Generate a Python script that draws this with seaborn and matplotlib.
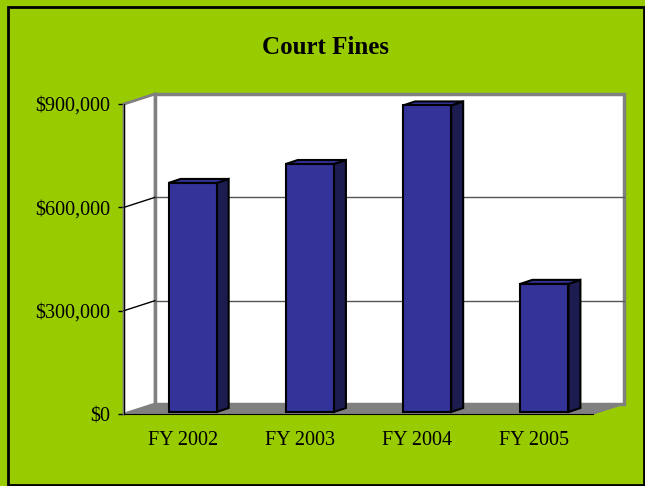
import matplotlib
matplotlib.use("Agg")
import matplotlib.pyplot as plt
import matplotlib.transforms as mtransforms
from matplotlib.patches import Polygon, Rectangle
import seaborn as sns

years = ["FY 2002", "FY 2003", "FY 2004", "FY 2005"]
fines = [665000, 720000, 890000, 372000]
y_ticks = [0, 300000, 600000, 900000]
y_labels = ["$0", "$300,000", "$600,000", "$900,000"]

GREEN = "#99CC00"
NAVY = "#333399"
NAVY_SIDE = "#1C1C50"
GREY = "#808080"

sns.set_style("white")
plt.rcParams["font.family"] = ["Liberation Serif", "DejaVu Serif"]
plt.rcParams["text.color"] = "black"
plt.rcParams["xtick.color"] = "black"
plt.rcParams["ytick.color"] = "black"
plt.rcParams["xtick.labelcolor"] = "black"
plt.rcParams["ytick.labelcolor"] = "black"

W, H = 645, 486
fig = plt.figure(figsize=(W / 100, H / 100), dpi=100, facecolor=GREEN)
fig.patches.append(Rectangle((7.5 / W, 1 - 484.5 / H), 636 / W, 477 / H,
                             transform=fig.transFigure, fill=False,
                             edgecolor="black", lw=2))
fig.text(326 / W, 1 - 47 / H, "Court Fines", ha="center", va="center",
         fontsize=18, fontweight="bold", color="black")

ax = fig.add_axes([124 / W, 1 - 414 / H, 469 / W, 310 / H])
ax.set_facecolor("none")

sns.barplot(x=years, y=fines, color=NAVY, saturation=1, width=0.41,
            edgecolor="black", linewidth=1.5, ax=ax, zorder=5)
bars = list(ax.patches)

ax.set_xlim(-0.5, 3.5)
ax.set_ylim(0, 900000)
ax.set_yticks(y_ticks, y_labels)
ax.set_xlabel("")
ax.set_ylabel("")
ax.tick_params(axis="y", length=4, width=1, colors="black", pad=6,
               labelsize=14.5, left=True, direction="out")
ax.tick_params(axis="x", length=0, pad=12, labelsize=14.5, colors="black")
for s in ["top", "right"]:
    ax.spines[s].set_visible(False)
ax.spines["left"].set_color("black")
ax.spines["bottom"].set_color("black")
ax.spines["left"].set_zorder(6)
ax.spines["bottom"].set_zorder(6)

# depth of the 3d box (pixels)
DX, DY = 31, 10
ident = mtransforms.IdentityTransform()
back_axes = mtransforms.offset_copy(ax.transAxes, fig, x=DX, y=DY, units="dots")
back_data = mtransforms.offset_copy(ax.transData, fig, x=DX, y=DY, units="dots")


def px(tr, x, y):
    return tr.transform((x, y))


# back wall
ax.add_patch(Rectangle((0, 0), 1, 1, transform=back_axes, facecolor="white",
                       edgecolor=GREY, lw=2.5, zorder=0, clip_on=False))
# left wall
fl, ft = px(ax.transAxes, 0, 0), px(ax.transAxes, 0, 1)
bl, bt = px(back_axes, 0, 0), px(back_axes, 0, 1)
ax.add_patch(Polygon([fl, ft, bt, bl], closed=True, transform=ident,
                     facecolor="white", edgecolor=GREY, lw=2, zorder=1,
                     clip_on=False))
# floor
fr, br = px(ax.transAxes, 1, 0), px(back_axes, 1, 0)
ax.add_patch(Polygon([fl, fr, br, bl], closed=True, transform=ident,
                     facecolor=GREY, edgecolor=GREY, lw=1, zorder=2,
                     clip_on=False))

# gridlines: back wall and left wall
for v in y_ticks[1:-1]:
    ax.plot([-0.5, 3.5], [v, v], transform=back_data, color="#555555",
            lw=1, zorder=1.5, clip_on=False)
for v in y_ticks[1:]:
    p0, p1 = px(ax.transData, -0.5, v), px(back_data, -0.5, v)
    ax.plot([p0[0], p1[0]], [p0[1], p1[1]], transform=ident,
            color="black" if v < 900000 else GREY, lw=1, zorder=1.5,
            clip_on=False)

# bars sit a bit inside the box, with their own depth
BX, BY = 10, 2
SX, SY = 12, 4
bar_tr = mtransforms.offset_copy(ax.transData, fig, x=BX, y=BY, units="dots")
for bar in bars:
    bar.set_transform(bar_tr)
    bar.set_clip_on(False)
    x0, w, h = bar.get_x(), bar.get_width(), bar.get_height()
    (a, b0), (c, b1) = px(bar_tr, x0, 0), px(bar_tr, x0 + w, h)
    side = [(c, b0), (c + SX, b0 + SY), (c + SX, b1 + SY), (c, b1)]
    top = [(a, b1), (c, b1), (c + SX, b1 + SY), (a + SX, b1 + SY)]
    ax.add_patch(Polygon(side, closed=True, transform=ident,
                         facecolor=NAVY_SIDE, edgecolor="black", lw=1.5,
                         zorder=4, clip_on=False))
    ax.add_patch(Polygon(top, closed=True, transform=ident,
                         facecolor=NAVY, edgecolor="black", lw=1.5,
                         zorder=4, clip_on=False))

fig.savefig("out.png", dpi=100, facecolor=GREEN)
